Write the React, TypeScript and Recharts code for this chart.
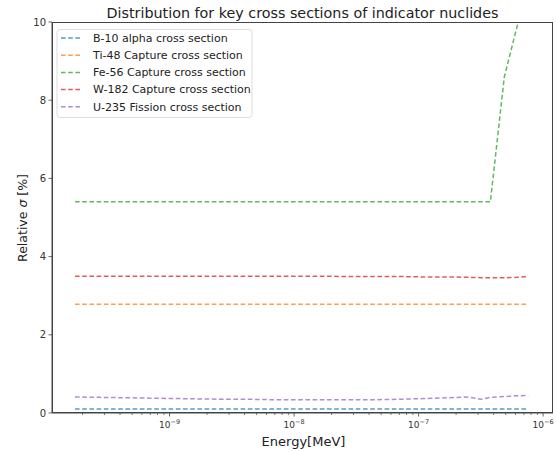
import React from "react";
import { LineChart, Line, XAxis, YAxis } from "recharts";

const energies = [
  1.74e-10, 2.75e-10, 4.37e-10, 6.92e-10, 1.1e-9, 1.74e-9, 2.75e-9, 4.37e-9, 6.92e-9,
  1.1e-8, 1.74e-8, 2.75e-8, 4.37e-8, 6.92e-8, 1.1e-7, 1.74e-7, 2.51e-7, 3.19e-7,
  3.77e-7, 4.88e-7, 6.08e-7, 7.59e-7,
];
const b10 = [0.1, 0.1, 0.1, 0.1, 0.1, 0.1, 0.1, 0.1, 0.1, 0.1, 0.1, 0.1, 0.1, 0.1, 0.1, 0.1, 0.1, 0.1, 0.1, 0.1, 0.1, 0.1];
const ti48 = [2.78, 2.78, 2.78, 2.78, 2.78, 2.78, 2.78, 2.78, 2.78, 2.78, 2.78, 2.78, 2.78, 2.78, 2.78, 2.78, 2.78, 2.78, 2.78, 2.78, 2.78, 2.78];
const fe56 = [5.4, 5.4, 5.4, 5.4, 5.4, 5.4, 5.4, 5.4, 5.4, 5.4, 5.4, 5.4, 5.4, 5.4, 5.4, 5.4, 5.4, 5.4, 5.4, 8.6, 9.8, 11.0];
const w182 = [3.5, 3.5, 3.5, 3.5, 3.5, 3.5, 3.5, 3.5, 3.5, 3.5, 3.5, 3.49, 3.49, 3.49, 3.48, 3.48, 3.47, 3.46, 3.46, 3.46, 3.47, 3.49];
const u235 = [0.41, 0.4, 0.39, 0.38, 0.37, 0.36, 0.35, 0.35, 0.34, 0.34, 0.34, 0.34, 0.34, 0.35, 0.37, 0.39, 0.41, 0.35, 0.4, 0.42, 0.44, 0.45];

const seriesNames = [
  "B-10 alpha cross section",
  "Ti-48 Capture cross section",
  "Fe-56 Capture cross section",
  "W-182 Capture cross section",
  "U-235 Fission cross section",
];
const seriesKeys = ["b10", "ti48", "fe56", "w182", "u235"];
const seriesColors = ["#1f77b4", "#ff7f0e", "#2ca02c", "#d62728", "#9467bd"];

const yTicks = [0, 2, 4, 6, 8, 10];
const xMajor = [1e-9, 1e-8, 1e-7, 1e-6];
const xMajorExp = ["−9", "−8", "−7", "−6"];
const xMinor = [
  2e-10, 3e-10, 4e-10, 5e-10, 6e-10, 7e-10, 8e-10, 9e-10,
  2e-9, 3e-9, 4e-9, 5e-9, 6e-9, 7e-9, 8e-9, 9e-9,
  2e-8, 3e-8, 4e-8, 5e-8, 6e-8, 7e-8, 8e-8, 9e-8,
  2e-7, 3e-7, 4e-7, 5e-7, 6e-7, 7e-7, 8e-7, 9e-7,
];

const data = energies.map((e, i) => ({
  e,
  b10: b10[i],
  ti48: ti48[i],
  fe56: fe56[i],
  w182: w182[i],
  u235: u235[i],
}));

const FONT = "DejaVu Sans, sans-serif";
const TXT = "#333";
const DASH = "4.6 2.6";

const XTick = (props: any) => {
  const { x, y, payload } = props;
  const idx = xMajor.findIndex((m) => Math.abs(m - payload.value) / m < 1e-6);
  if (idx < 0) {
    return <line x1={x} x2={x} y1={y} y2={y + 2} stroke="#555" strokeWidth={0.8} />;
  }
  return (
    <g>
      <line x1={x} x2={x} y1={y} y2={y + 3.5} stroke="#444" strokeWidth={0.8} />
      <text x={x} y={y + 15} textAnchor="middle" fontFamily={FONT} fontSize={9} fill={TXT}>
        10
        <tspan fontSize={6.5} dy={-4}>{xMajorExp[idx]}</tspan>
      </text>
    </g>
  );
};

const YTick = (props: any) => {
  const { x, y, payload } = props;
  return (
    <g>
      <line x1={x - 3.5} x2={x} y1={y} y2={y} stroke="#444" strokeWidth={0.8} />
      <text x={x - 6} y={y} dy="0.35em" textAnchor="end" fontFamily={FONT} fontSize={10} fill={TXT}>
        {payload.value}
      </text>
    </g>
  );
};

export default function App() {
  const W = 549;
  const H = 444;
  const plotL = 44;
  const plotT = 14;
  const plotR = 545;
  const plotB = 405;
  return (
    <div style={{ position: "relative", width: 557, height: 452 }}>
      <style>{"body{margin:0}"}</style>
      <div style={{ position: "absolute", left: 8, top: 8, width: W, height: H }}>
        <LineChart
          width={W}
          height={H}
          data={data}
          margin={{ top: plotT, right: W - plotR, left: plotL - 40, bottom: 0 }}
          style={{ overflow: "visible" }}
        >
          <XAxis
            dataKey="e"
            type="number"
            scale="log"
            domain={[1.137e-10, 1.2e-6]}
            allowDataOverflow
            ticks={[...xMinor, ...xMajor].sort((a, b) => a - b)}
            interval={0}
            tick={<XTick />}
            tickLine={false}
            tickSize={0}
            tickMargin={0}
            height={H - plotB}
            axisLine={{ stroke: "#444", strokeWidth: 1 }}
          />
          <YAxis
            type="number"
            domain={[0, 10]}
            allowDataOverflow
            ticks={yTicks}
            interval={0}
            tick={<YTick />}
            tickLine={false}
            tickSize={0}
            tickMargin={0}
            width={40}
            axisLine={{ stroke: "#444", strokeWidth: 1 }}
          />
          {seriesKeys.map((k, i) => (
            <Line
              key={k}
              dataKey={k}
              type="linear"
              stroke={seriesColors[i]}
              strokeOpacity={0.75}
              strokeWidth={1.5}
              strokeDasharray={DASH}
              dot={false}
              activeDot={false}
              isAnimationActive={false}
            />
          ))}
        </LineChart>
        <div
          style={{
            position: "absolute",
            left: plotL,
            top: plotT,
            width: plotR - plotL,
            height: plotB - plotT,
            border: "1px solid #444",
            boxSizing: "border-box",
            pointerEvents: "none",
          }}
        />
        <svg
          width={W}
          height={H}
          style={{ position: "absolute", left: 0, top: 0, pointerEvents: "none", overflow: "visible" }}
        >
          <text x={(plotL + plotR) / 2} y={9.5} textAnchor="middle" fontFamily={FONT} fontSize={14.3} fill="#222">
            Distribution for key cross sections of indicator nuclides
          </text>
          <text x={(plotL + plotR) / 2 + 1} y={437.5} textAnchor="middle" fontFamily={FONT} fontSize={13} fill="#222">
            Energy[MeV]
          </text>
          <text
            x={18.5}
            y={210}
            textAnchor="middle"
            fontFamily={FONT}
            fontSize={12.5}
            fill="#222"
            transform="rotate(-90 18.5 210)"
          >
            Relative <tspan fontStyle="italic">σ</tspan> [%]
          </text>
          <rect x={49} y={21.5} width={195} height={88} rx={3} fill="#fff" fillOpacity={0.85} stroke="#ddd" strokeWidth={1} />
          {seriesNames.map((n, i) => (
            <g key={n}>
              <line
                x1={53}
                x2={73}
                y1={30 + i * 17.2}
                y2={30 + i * 17.2}
                stroke={seriesColors[i]}
                strokeOpacity={0.75}
                strokeWidth={1.5}
                strokeDasharray={DASH}
              />
              <text x={85} y={30 + i * 17.2} dy="0.35em" fontFamily={FONT} fontSize={11} fill="#222">
                {n}
              </text>
            </g>
          ))}
        </svg>
      </div>
    </div>
  );
}
